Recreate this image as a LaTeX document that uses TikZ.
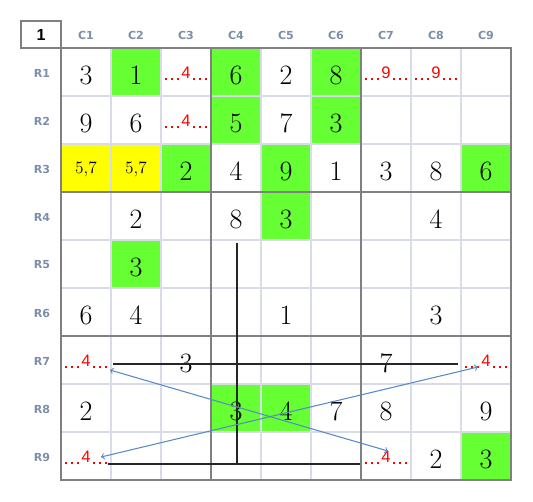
\documentclass[tikz,border=0pt]{standalone}
\usepackage{fontspec}
\setsansfont{Liberation Sans}
\newfontfamily\headfont{DejaVu Sans}
\usepackage{xcolor}
\usepackage{tikz}

\definecolor{cellgreen}{RGB}{102,255,51}
\definecolor{cellyellow}{RGB}{255,255,0}
\definecolor{gridthin}{RGB}{216,220,230}
\definecolor{gridthick}{RGB}{128,128,128}
\definecolor{headgray}{RGB}{125,142,168}
\definecolor{linkblue}{RGB}{90,138,198}

\tikzset{
  given/.style={inner sep=0pt,font=\fontsize{21}{24}\selectfont},
  pair/.style={inner sep=0pt,anchor=base,font=\fontsize{13}{15}\selectfont},
  cand/.style={inner sep=0pt,text=red,font=\sffamily\fontsize{12.5}{14}\selectfont},
  candline/.style={red,line width=1.5pt,dash pattern=on 1.5pt off 3pt},
  head/.style={inner sep=0pt,text=headgray,font=\headfont\bfseries\fontsize{8.3}{10}\selectfont},
  thin/.style={gridthin,line width=1.5pt},
  thick/.style={gridthick,line width=1.9pt},
  strike/.style={black!85,line width=0.8pt},
  link/.style={linkblue,line width=0.8pt,<->,>=to}
}

\begin{document}
\begin{tikzpicture}[x=0.75pt,y=0.75pt,yscale=-1,xscale=1]
\useasboundingbox (0,0) rectangle (533,501);

% coloured cells
\fill[cellgreen] (111,48) rectangle (161,96);
\fill[cellgreen] (211,48) rectangle (261,96);
\fill[cellgreen] (311,48) rectangle (361,96);
\fill[cellgreen] (211,96) rectangle (261,144);
\fill[cellgreen] (311,96) rectangle (361,144);
\fill[cellyellow] (61,144) rectangle (111,192);
\fill[cellyellow] (111,144) rectangle (161,192);
\fill[cellgreen] (161,144) rectangle (211,192);
\fill[cellgreen] (261,144) rectangle (311,192);
\fill[cellgreen] (461,144) rectangle (511,192);
\fill[cellgreen] (261,192) rectangle (311,240);
\fill[cellgreen] (111,240) rectangle (161,288);
\fill[cellgreen] (211,384) rectangle (261,432);
\fill[cellgreen] (261,384) rectangle (311,432);
\fill[cellgreen] (461,432) rectangle (511,480);

% thin grid
\draw[thin] (111,48) -- (111,480);
\draw[thin] (161,48) -- (161,480);
\draw[thin] (261,48) -- (261,480);
\draw[thin] (311,48) -- (311,480);
\draw[thin] (411,48) -- (411,480);
\draw[thin] (461,48) -- (461,480);
\draw[thin] (61,96) -- (511,96);
\draw[thin] (61,144) -- (511,144);
\draw[thin] (61,240) -- (511,240);
\draw[thin] (61,288) -- (511,288);
\draw[thin] (61,384) -- (511,384);
\draw[thin] (61,432) -- (511,432);

% box borders
\draw[thick] (61,48) rectangle (511,480);
\draw[thick] (211,48) -- (211,480);
\draw[thick] (361,48) -- (361,480);
\draw[thick] (61,192) -- (511,192);
\draw[thick] (61,336) -- (511,336);
\draw[thick] (21,21) rectangle (61,48);

% headers
\node[inner sep=0pt,font=\sffamily\bfseries\fontsize{12}{14}\selectfont] (corner) at (41,35) {1};
\node[head] (c1) at (86,35) {C1};
\node[head] (c2) at (136,35) {C2};
\node[head] (c3) at (186,35) {C3};
\node[head] (c4) at (236,35) {C4};
\node[head] (c5) at (286,35) {C5};
\node[head] (c6) at (336,35) {C6};
\node[head] (c7) at (386,35) {C7};
\node[head] (c8) at (436,35) {C8};
\node[head] (c9) at (486,35) {C9};
\node[head] (r1) at (42,73) {R1};
\node[head] (r2) at (42,121) {R2};
\node[head] (r3) at (42,169) {R3};
\node[head] (r4) at (42,217) {R4};
\node[head] (r5) at (42,265) {R5};
\node[head] (r6) at (42,313) {R6};
\node[head] (r7) at (42,361) {R7};
\node[head] (r8) at (42,409) {R8};
\node[head] (r9) at (42,457) {R9};

% row 1
\node[given] (r1c1) at (86,75) {3};
\node[given] (r1c2) at (136,75) {1};
\node[cand] (r1c3) at (186,73) {4};
\draw[candline] (165,79) -- (179,79) (193,79) -- (207,79);
\node[given] (r1c4) at (236,75) {6};
\node[given] (r1c5) at (286,75) {2};
\node[given] (r1c6) at (336,75) {8};
\node[cand] (r1c7) at (386,73) {9};
\draw[candline] (365,79) -- (379,79) (393,79) -- (407,79);
\node[cand] (r1c8) at (436,73) {9};
\draw[candline] (415,79) -- (429,79) (443,79) -- (457,79);
% row 2
\node[given] (r2c1) at (86,123) {9};
\node[given] (r2c2) at (136,123) {6};
\node[cand] (r2c3) at (186,121) {4};
\draw[candline] (165,127) -- (179,127) (193,127) -- (207,127);
\node[given] (r2c4) at (236,123) {5};
\node[given] (r2c5) at (286,123) {7};
\node[given] (r2c6) at (336,123) {3};
% row 3
\node[pair] (r3c1) at (86,173) {5,7};
\node[pair] (r3c2) at (136,173) {5,7};
\node[given] (r3c3) at (186,171) {2};
\node[given] (r3c4) at (236,171) {4};
\node[given] (r3c5) at (286,171) {9};
\node[given] (r3c6) at (336,171) {1};
\node[given] (r3c7) at (386,171) {3};
\node[given] (r3c8) at (436,171) {8};
\node[given] (r3c9) at (486,171) {6};
% row 4
\node[given] (r4c2) at (136,219) {2};
\node[given] (r4c4) at (236,219) {8};
\node[given] (r4c5) at (286,219) {3};
\node[given] (r4c8) at (436,219) {4};
% row 5
\node[given] (r5c2) at (136,267) {3};
% row 6
\node[given] (r6c1) at (86,315) {6};
\node[given] (r6c2) at (136,315) {4};
\node[given] (r6c5) at (286,315) {1};
\node[given] (r6c8) at (436,315) {3};
% row 7
\node[cand] (r7c1) at (86,361) {4};
\draw[candline] (65,367) -- (79,367) (93,367) -- (107,367);
\node[given] (r7c3) at (186,363) {3};
\node[given] (r7c7) at (386,363) {7};
\node[cand] (r7c9) at (486,361) {4};
\draw[candline] (465,367) -- (479,367) (493,367) -- (507,367);
% row 8
\node[given] (r8c1) at (86,411) {2};
\node[given] (r8c4) at (236,411) {3};
\node[given] (r8c5) at (286,411) {4};
\node[given] (r8c6) at (336,411) {7};
\node[given] (r8c7) at (386,411) {8};
\node[given] (r8c9) at (486,411) {9};
% row 9
\node[cand] (r9c1) at (86,457) {4};
\draw[candline] (65,463) -- (79,463) (93,463) -- (107,463);
\node[cand] (r9c7) at (386,457) {4};
\draw[candline] (365,463) -- (379,463) (393,463) -- (407,463);
\node[given] (r9c8) at (436,459) {2};
\node[given] (r9c9) at (486,459) {3};

% strike lines
\coordinate (hl1) at (113,364);
\coordinate (hr1) at (458,364);
\coordinate (vt) at (237,243);
\coordinate (vb) at (237,464);
\coordinate (hl2) at (108,464);
\coordinate (hr2) at (360,464);
\draw[strike] (hl1) -- (hr1);
\draw[strike] (vt) -- (vb);
\draw[strike] (hl2) -- (hr2);

% links
\coordinate (la1) at (110,370);
\coordinate (la2) at (388,451);
\coordinate (lb1) at (101,457);
\coordinate (lb2) at (478,367);
\draw[link] (la1) -- (la2);
\draw[link] (lb1) -- (lb2);
\end{tikzpicture}
\end{document}
